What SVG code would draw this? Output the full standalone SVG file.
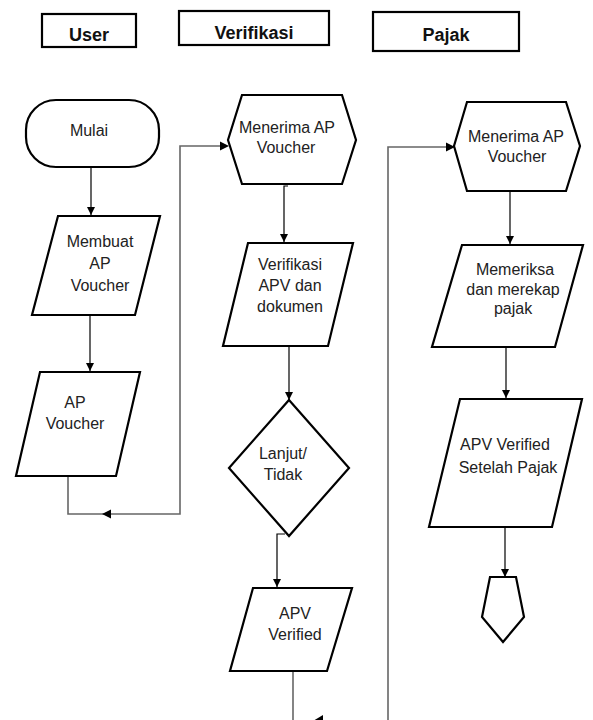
<svg xmlns="http://www.w3.org/2000/svg" width="593" height="720" viewBox="0 0 593 720">
<style>
.hdr{fill:#fff;stroke:#000;stroke-width:2.2}
.ht{font-family:"Liberation Sans",Arial,sans-serif;font-weight:bold;font-size:18px;fill:#111;text-anchor:middle}
.sh{fill:#fff;stroke:#000;stroke-width:2.2;stroke-linejoin:miter}
.t{font-family:"Liberation Sans",Arial,sans-serif;font-size:16px;fill:#222;text-anchor:middle}
.c{fill:none;stroke:#000;stroke-width:1.2}
.g{fill:none;stroke:#666;stroke-width:1.6}
.ah{fill:#000}
</style>
<defs>
<marker id="arr" viewBox="0 0 10 10" refX="10" refY="5" markerWidth="8" markerHeight="8" markerUnits="userSpaceOnUse" orient="auto">
<path d="M0,0 L10,5 L0,10 Z" fill="#000"/>
</marker>
</defs>

<g id="header-user"><rect class="hdr" x="42" y="14" width="94" height="33"/><text class="ht" x="89" y="41">User</text></g>
<g id="header-verifikasi"><rect class="hdr" x="179" y="11" width="150" height="34"/><text class="ht" x="254" y="39">Verifikasi</text></g>
<g id="header-pajak"><rect class="hdr" x="373" y="12" width="146" height="39"/><text class="ht" x="446" y="41">Pajak</text></g>

<g id="connectors">
<path class="c" d="M91,167 V215" marker-end="url(#arr)"/>
<path class="c" d="M90,315 V371" marker-end="url(#arr)"/>
<path class="g" d="M68,476 V514 H180 V146 H220"/>
<path class="ah" d="M102,514 L111,509.5 L111,518.5 Z"/>
<path class="ah" d="M229,146 L220,141.5 L220,150.5 Z"/>
<path class="c" d="M288,186 H284 V242" marker-end="url(#arr)"/>
<path class="c" d="M289,346 V400" marker-end="url(#arr)"/>
<path class="c" d="M285,534 H277 V587" marker-end="url(#arr)"/>
<path class="g" d="M293,671 V720"/>
<path class="g" d="M388,720 V147 H446"/>
<path class="ah" d="M455,147 L446,142.5 L446,151.5 Z"/>
<path class="ah" d="M313,721 L323,715 L323,727 Z"/>
<path class="c" d="M510,191 V244" marker-end="url(#arr)"/>
<path class="c" d="M506,347 V398" marker-end="url(#arr)"/>
<path class="c" d="M505,527 V577" marker-end="url(#arr)"/>
</g>

<g id="mulai"><rect class="sh" x="26" y="100" width="133" height="67" rx="30" ry="30"/><text class="t" x="89" y="136">Mulai</text></g>
<g id="membuat-ap-voucher"><polygon class="sh" points="58,216 160,216 135,315 32,315"/>
<text class="t" x="100" y="247">Membuat</text><text class="t" x="100" y="269">AP</text><text class="t" x="100" y="291">Voucher</text></g>
<g id="ap-voucher"><polygon class="sh" points="40,372 140,372 116,476 16,476"/>
<text class="t" x="75" y="408">AP</text><text class="t" x="75" y="429">Voucher</text></g>

<g id="verif-menerima"><polygon class="sh" points="242,95 342,95 356,140 342,184 242,184 228,140"/>
<text class="t" x="287" y="133">Menerima AP</text><text class="t" x="286" y="153">Voucher</text></g>
<g id="verifikasi-apv"><polygon class="sh" points="248,243 353,243 328,346 223,346"/>
<text class="t" x="290" y="270">Verifikasi</text><text class="t" x="290" y="291">APV dan</text><text class="t" x="290" y="312">dokumen</text></g>
<g id="lanjut-tidak"><polygon class="sh" points="289,400 349,468 289,536 229,468"/>
<text class="t" x="283" y="459">Lanjut/</text><text class="t" x="283" y="480">Tidak</text></g>
<g id="apv-verified"><polygon class="sh" points="253,588 352,588 327,671 230,671"/>
<text class="t" x="295" y="619">APV</text><text class="t" x="295" y="640">Verified</text></g>

<g id="pajak-menerima"><polygon class="sh" points="467,102 566,102 580,146 566,191 467,191 454,146"/>
<text class="t" x="516" y="142">Menerima AP</text><text class="t" x="517" y="162">Voucher</text></g>
<g id="memeriksa"><polygon class="sh" points="462,245 583,245 555,347 432,347"/>
<text class="t" x="515" y="275">Memeriksa</text><text class="t" x="513" y="295">dan merekap</text><text class="t" x="513" y="314">pajak</text></g>
<g id="apv-setelah-pajak"><polygon class="sh" points="460,399 582,399 552,527 429,527"/>
<text class="t" x="505" y="450">APV Verified</text><text class="t" x="508" y="473">Setelah Pajak</text></g>
<g id="offpage"><polygon class="sh" points="490,577 516,577 524,617 503,642 482,617"/></g>
</svg>
